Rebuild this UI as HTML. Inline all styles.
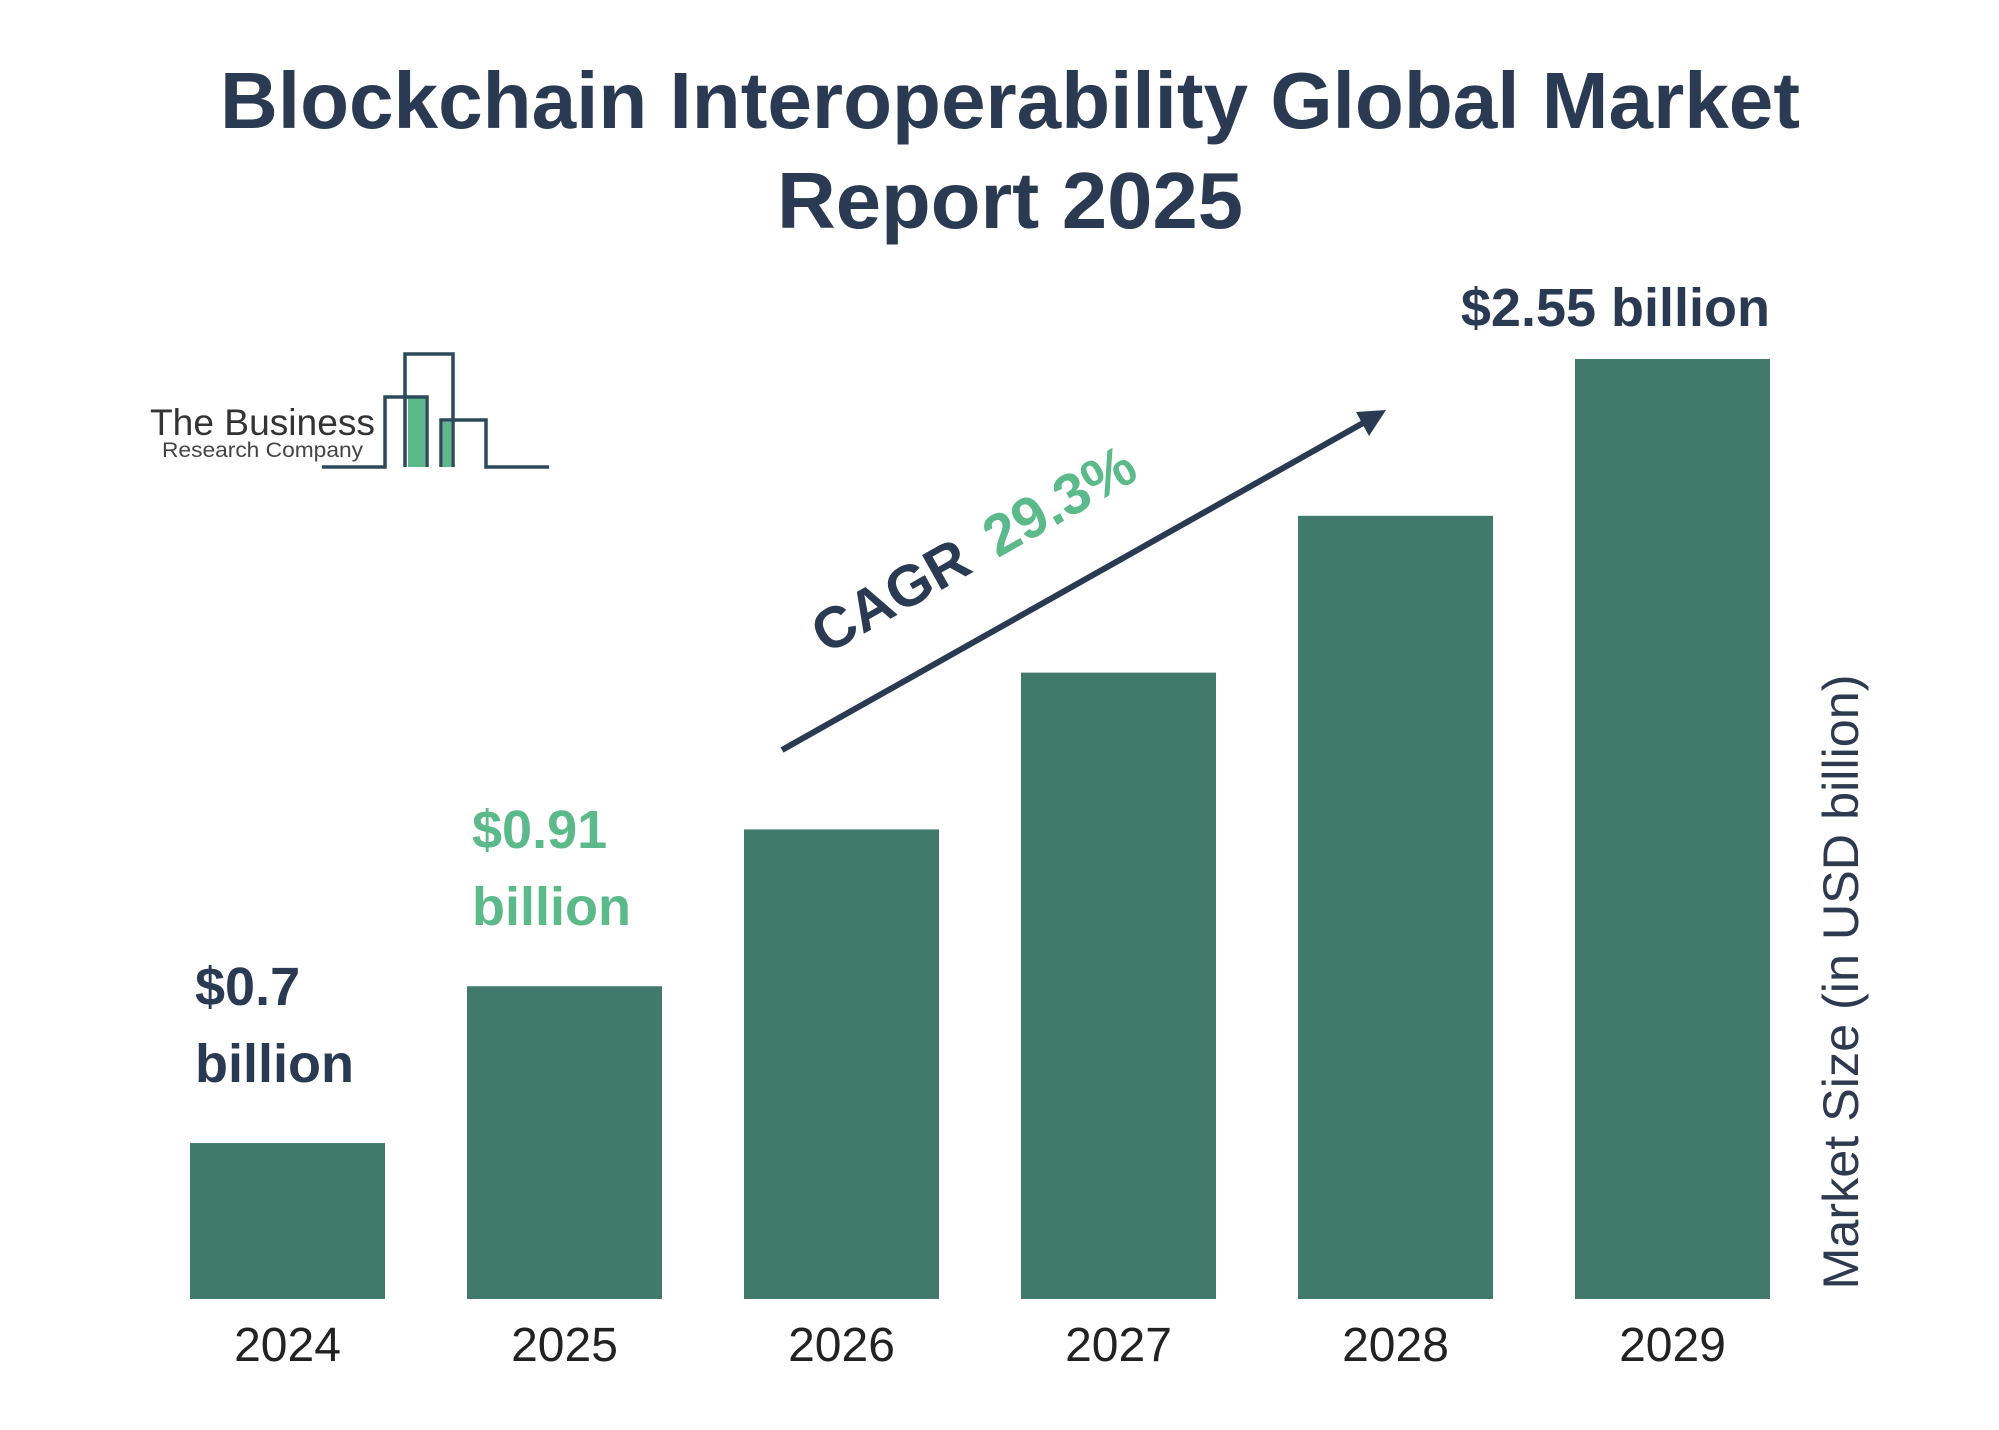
<!DOCTYPE html>
<html><head><meta charset="utf-8">
<style>
html,body{margin:0;padding:0;background:#fff;}
svg{display:block;font-family:"Liberation Sans",sans-serif;}
</style></head>
<body>
<svg id="chart" width="1999" height="1430" viewBox="0 0 1999 1430">
  <rect width="1999" height="1430" fill="#fff"/>
  <text x="1010" y="128" text-anchor="middle" font-size="80" font-weight="bold" fill="#2a3a52" textLength="1580" lengthAdjust="spacingAndGlyphs">Blockchain Interoperability Global Market</text>
  <text x="1010" y="228" text-anchor="middle" font-size="80" font-weight="bold" fill="#2a3a52" textLength="466" lengthAdjust="spacingAndGlyphs">Report 2025</text>

  <g>
    <text x="150" y="435" font-size="37" fill="#333" textLength="225" lengthAdjust="spacingAndGlyphs">The Business</text>
    <text x="162" y="457" font-size="21" fill="#444" textLength="201" lengthAdjust="spacingAndGlyphs">Research Company</text>
    <rect x="408" y="398" width="17" height="69" fill="#5bb98a"/>
    <rect x="443" y="422" width="8" height="45" fill="#5bb98a"/>
    <path d="M322 467 H385 V397 H427 V467 M405 467 V354 H453 V467 M441 467 V420 H486 V467 H549" fill="none" stroke="#2b4a5a" stroke-width="3.5"/>
  </g>

  <g id="bars"></g>
  <g id="labels"></g>

  <g>
    <line x1="782" y1="750" x2="1372" y2="418" stroke="#2a3a52" stroke-width="6"/>
    <polygon points="1386,410 1356,412 1369,436" fill="#2a3a52"/>
  </g>
  <text transform="translate(826,655) rotate(-29.4)" font-size="58" font-weight="bold"><tspan fill="#2a3a52">CAGR</tspan><tspan fill="#5bb98a" dx="26">29.3%</tspan></text>

  <text transform="translate(1858,982) rotate(-90)" text-anchor="middle" font-size="50" fill="#2d3a4f" textLength="615" lengthAdjust="spacingAndGlyphs">Market Size (in USD billion)</text>
</svg>
<script>
const categories = ["2024","2025","2026","2027","2028","2029"];
const values = [0.7, 1.07, 1.44, 1.81, 2.18, 2.55];
const valueLabels = [["$0.7","billion"],["$0.91","billion"],null,null,null,["$2.55 billion"]];
const labelColors = ["#2a3a52","#5bb98a",null,null,null,"#2a3a52"];

const NS = "http://www.w3.org/2000/svg";
const baseline = 1299, vMin = 0.332, pxPerUnit = 423.8;
const x0 = 190, step = 277, barW = 195;
function xPos(i){ return x0 + i*step; }
function yPos(v){ return baseline - (v - vMin)*pxPerUnit; }

const gb = document.getElementById("bars");
const gl = document.getElementById("labels");
categories.forEach((c,i)=>{
  const r = document.createElementNS(NS,"rect");
  
  
  const y = yPos(values[i]);
  r.setAttribute("x", xPos(i)); r.setAttribute("y", y);
  r.setAttribute("width", barW); r.setAttribute("height", baseline - y);
  r.setAttribute("fill", "#417a6b");
  gb.appendChild(r);

  const t = document.createElementNS(NS,"text");
  
  
  t.setAttribute("x", xPos(i)+barW/2); t.setAttribute("y", 1361);
  t.setAttribute("text-anchor","middle"); t.setAttribute("font-size","48");
  t.setAttribute("fill","#222");
  t.textContent = c;
  gl.appendChild(t);

  const lab = valueLabels[i];
  if(lab){
    lab.forEach((line,k)=>{
      const v = document.createElementNS(NS,"text");
      
      
      if(lab.length===1){
        v.setAttribute("x", xPos(i)+barW); v.setAttribute("text-anchor","end");
        v.setAttribute("y", y - 33);
      } else {
        v.setAttribute("x", xPos(i)+5);
        v.setAttribute("y", y - 138 + k*77);
      }
      v.setAttribute("font-size","54"); v.setAttribute("font-weight","bold");
      v.setAttribute("fill", labelColors[i]);
      v.textContent = line;
      gl.appendChild(v);
    });
  }
});
</script>
</body></html>
